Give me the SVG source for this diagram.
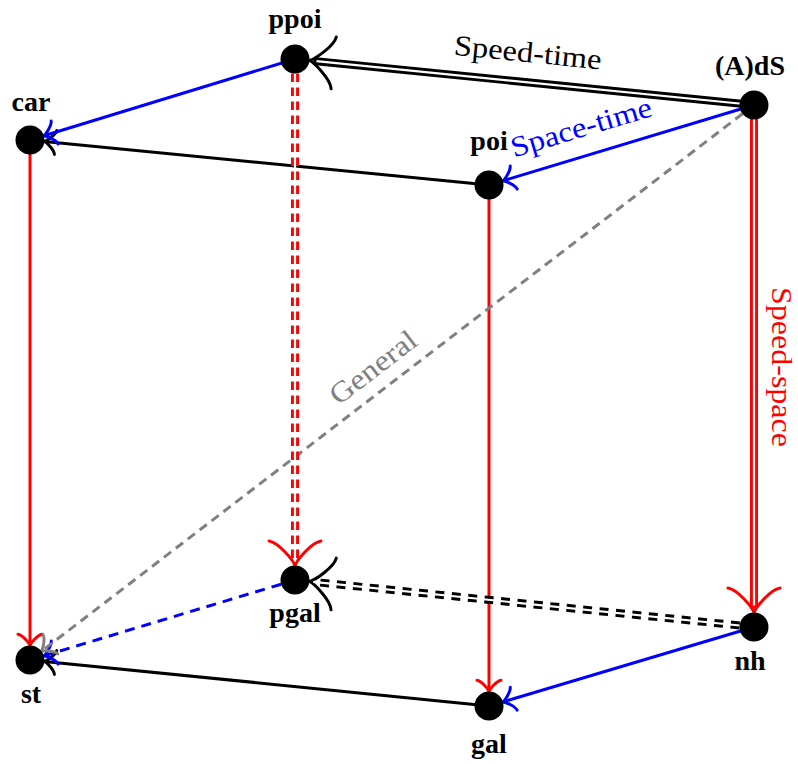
<svg xmlns="http://www.w3.org/2000/svg" width="798" height="764" viewBox="0 0 798 764">
<style>
.e{fill:none;stroke-width:3;stroke-linecap:butt}
.k{stroke:#000}.b{stroke:#0000ff}.r{stroke:#ff0000}.g{stroke:#808080}
.dk{stroke-dasharray:9 7.5}.dr{stroke-dasharray:8.5 5.5}.db{stroke-dasharray:10 7}.dg{stroke-dasharray:9 6}
.dbl{stroke-width:8}.gap{stroke:#fff;stroke-width:2.2}
.n{fill:#000}
.lab{font-family:"Liberation Serif",serif;font-weight:bold;font-size:28px;fill:#000;text-anchor:middle}
.el{font-family:"Liberation Serif",serif;font-size:29px;text-anchor:middle}
.mk{fill:none;stroke-width:3;stroke-linecap:round}
</style>
<defs>
<marker id="toK" markerUnits="userSpaceOnUse" orient="auto" refX="0" refY="0" markerWidth="30" markerHeight="30" overflow="visible"><path class="mk" stroke="#000" d="M-11.25,-12 C-10.5,-7.5 -2.25,-0.75 0,0 C-2.25,0.75 -10.5,7.5 -11.25,12"/></marker>
<marker id="toB" markerUnits="userSpaceOnUse" orient="auto" refX="0" refY="0" markerWidth="30" markerHeight="30" overflow="visible"><path class="mk" stroke="#0000ff" d="M-11.25,-12 C-10.5,-7.5 -2.25,-0.75 0,0 C-2.25,0.75 -10.5,7.5 -11.25,12"/></marker>
<marker id="toR" markerUnits="userSpaceOnUse" orient="auto" refX="0" refY="0" markerWidth="30" markerHeight="30" overflow="visible"><path class="mk" stroke="#ff0000" d="M-11.25,-12 C-10.5,-7.5 -2.25,-0.75 0,0 C-2.25,0.75 -10.5,7.5 -11.25,12"/></marker>
<marker id="toG" markerUnits="userSpaceOnUse" orient="auto" refX="0" refY="0" markerWidth="30" markerHeight="30" overflow="visible"><path class="mk" stroke="#808080" d="M-11.25,-12 C-10.5,-7.5 -2.25,-0.75 0,0 C-2.25,0.75 -10.5,7.5 -11.25,12"/></marker>
<marker id="bigK" markerUnits="userSpaceOnUse" orient="auto" refX="-4" refY="0" markerWidth="60" markerHeight="60" overflow="visible"><path class="mk" stroke="#000" d="M-24.4,-26 C-22.75,-16.25 -4.9,-1.6 0,0 C-4.9,1.6 -22.75,16.25 -24.4,26"/></marker>
<marker id="bigR" markerUnits="userSpaceOnUse" orient="auto" refX="-4" refY="0" markerWidth="60" markerHeight="60" overflow="visible"><path class="mk" stroke="#ff0000" d="M-24.4,-26 C-22.75,-16.25 -4.9,-1.6 0,0 C-4.9,1.6 -22.75,16.25 -24.4,26"/></marker>
</defs>
<g id="connectors">
<path class="e k" d="M489,185 L44.4,141.4" marker-end="url(#toK)"/>
<path class="e b" d="M295,59 L43.9,135.8" marker-end="url(#toB)"/>
<path class="e r" d="M30,140 L30,645.5" marker-end="url(#toR)"/>
<path class="e r" d="M489,185 L489,691.5" marker-end="url(#toR)"/>
<path class="e k" d="M489,706 L44.4,661.4" marker-end="url(#toK)"/>
<path class="e b" d="M754,627 L502.9,701.9" marker-end="url(#toB)"/>
<path class="e b db" d="M281.1,584.2 L43.9,655.8" marker-end="url(#toB)"/>
<path class="e g dg" d="M742.5,113.8 L41.5,651.2" marker-end="url(#toG)"/>
<path class="e b" d="M754,105 L502.9,180.8" marker-end="url(#toB)"/>
<path class="e k dbl" d="M754,105 L313.4,60.9" marker-end="url(#bigK)"/>
<path class="e gap" d="M754,105 L316.4,61.2"/>
<path class="e r dbl" d="M754,105 L754,608.5" marker-end="url(#bigR)"/>
<path class="e gap" d="M754,105 L754,605.5"/>
<path class="e r dbl dr" d="M295,73.5 L295,561.5" marker-end="url(#bigR)"/>
<path class="e gap" d="M295,73.5 L295,561.5"/>
<path class="e k dbl dk" d="M739.6,625.5 L313.4,581.9" marker-end="url(#bigK)"/>
<path class="e gap" d="M739.6,625.5 L313.4,581.9"/>
<text class="el" fill="#000" x="527" y="62" transform="rotate(5.7 527 62)" textLength="148" lengthAdjust="spacingAndGlyphs">Speed-time</text>
<text class="el" fill="#0000ff" x="584" y="136.5" transform="rotate(-16.7 584 136.5)" textLength="146" lengthAdjust="spacingAndGlyphs">Space-time</text>
<text class="el" fill="#808080" x="379" y="375" transform="rotate(-37.5 379 375)" textLength="102" lengthAdjust="spacingAndGlyphs">General</text>
<text class="el" fill="#ff0000" x="772" y="367" transform="rotate(90 772 367)" textLength="160" lengthAdjust="spacingAndGlyphs">Speed-space</text>
</g>
<g id="ppoi"><circle class="n" cx="295" cy="59" r="14.5"/><text class="lab" x="295" y="28">ppoi</text></g>
<g id="AdS"><circle class="n" cx="754" cy="105" r="14.5"/><text class="lab" x="750" y="75">(A)dS</text></g>
<g id="car"><circle class="n" cx="30" cy="140" r="14.5"/><text class="lab" x="31" y="111">car</text></g>
<g id="poi"><circle class="n" cx="489" cy="185" r="14.5"/><text class="lab" x="489" y="150">poi</text></g>
<g id="pgal"><circle class="n" cx="295" cy="580" r="14.5"/><text class="lab" x="295" y="622">pgal</text></g>
<g id="nh"><circle class="n" cx="754" cy="627" r="14.5"/><text class="lab" x="750" y="670">nh</text></g>
<g id="st"><circle class="n" cx="30" cy="660" r="14.5"/><text class="lab" x="31" y="703">st</text></g>
<g id="gal"><circle class="n" cx="489" cy="706" r="14.5"/><text class="lab" x="489" y="753">gal</text></g>
</svg>
